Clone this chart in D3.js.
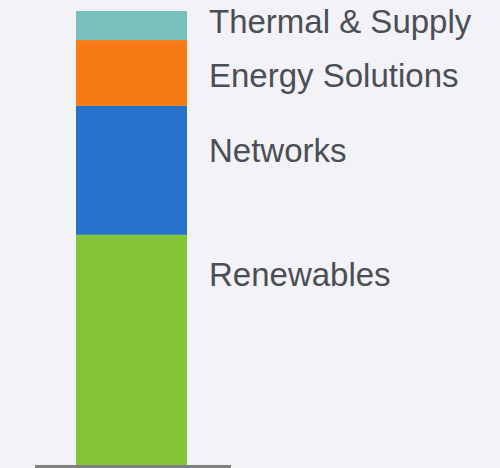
<!DOCTYPE html>
<html><head><meta charset="utf-8">
<script src="https://cdn.jsdelivr.net/npm/d3@7"></script>
<style>html,body{margin:0;padding:0;background:#f3f2f7;}svg{display:block;}</style>
</head><body><div id="chart"></div>
<script>
const categories = ["Renewables", "Networks", "Energy Solutions", "Thermal & Supply"];
const values = [50.7, 28.4, 14.5, 6.4];
const colors = ["#83c537", "#2671c9", "#f77b14", "#78c0bb"];
// label baseline anchors, in value units
const labelAnchors = [39.4, 66.7, 83.3, 95.1];

const W = 500, H = 468;
const svg = d3.select("#chart").append("svg").attr("width", W).attr("height", H);
svg.append("rect").attr("width", W).attr("height", H).attr("fill", "#f3f2f7");

const x = d3.scaleBand().domain(["bar"]).range([76, 187]).padding(0);
const y = d3.scaleLinear().domain([0, 100]).range([465, 11]);

let acc = 0;
const stacked = values.map((v, i) => { const d = {cat: categories[i], y0: acc, y1: acc + v, color: colors[i]}; acc += v; return d; });

svg.selectAll("rect.seg").data(stacked).enter().append("rect")
  .attr("class", "seg")
  .attr("x", x("bar"))
  .attr("width", x.bandwidth())
  .attr("y", d => y(d.y1))
  .attr("height", d => y(d.y0) - y(d.y1))
  .attr("fill", d => d.color);

svg.append("line").attr("x1", 35).attr("x2", 231).attr("y1", y(0) + 1.5).attr("y2", y(0) + 1.5)
  .attr("stroke", "#808080").attr("stroke-width", 3);

svg.selectAll("text.lbl").data(stacked).enter().append("text")
  .attr("class", "lbl")
  .attr("x", 209)
  .attr("y", (d, i) => y(labelAnchors[i]))
  .attr("font-family", "'Liberation Sans', Arial, sans-serif")
  .attr("font-size", 33)
  .attr("fill", "#4a4f55")
  .text(d => d.cat);
</script></body></html>
